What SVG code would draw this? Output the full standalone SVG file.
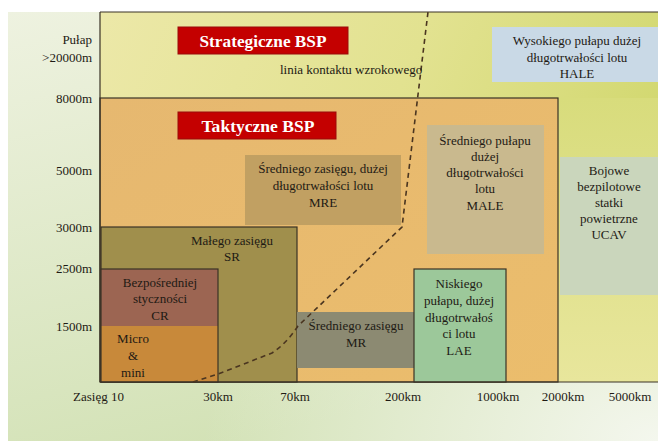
<svg xmlns="http://www.w3.org/2000/svg" width="658" height="441" viewBox="0 0 658 441" font-family="'Liberation Serif', 'DejaVu Serif', serif">
<defs>
<linearGradient id="bg" x1="0" y1="0" x2="0.35" y2="1">
<stop offset="0" stop-color="#eef2e0"/>
<stop offset="1" stop-color="#d3e2b6"/>
</linearGradient>
<radialGradient id="bgr" cx="1" cy="1" r="0.7">
<stop offset="0" stop-color="#f4f7ee" stop-opacity="1"/>
<stop offset="1" stop-color="#f4f7ee" stop-opacity="0"/>
</radialGradient>
<linearGradient id="strat" x1="0" y1="0" x2="1" y2="0.3">
<stop offset="0" stop-color="#ece8a8"/>
<stop offset="0.55" stop-color="#e2e290"/>
<stop offset="1" stop-color="#d2d870"/>
</linearGradient>
<linearGradient id="tact" x1="0" y1="0" x2="1" y2="1">
<stop offset="0" stop-color="#e6b870"/>
<stop offset="1" stop-color="#ebbd6c"/>
</linearGradient>
<linearGradient id="rcol" x1="0" y1="0" x2="0" y2="1">
<stop offset="0" stop-color="#d8dc7c"/>
<stop offset="1" stop-color="#e8e69c"/>
</linearGradient>
</defs>
<style>
text{font-family:'Liberation Serif','DejaVu Serif',serif;font-size:13px;fill:#1e1a14}
.ax{text-anchor:end}
.axc{text-anchor:middle}
.c{text-anchor:middle}
.ttl{font-size:17px;fill:#ffffff;font-weight:bold;text-anchor:middle}
.red{fill:#c40000;stroke:#9a0a0a;stroke-width:1}
.bd{stroke:#3a3226;stroke-width:1.2}
.conn{fill:none;stroke:#4a3520;stroke-width:1.6;stroke-dasharray:5 4}
</style>
<rect width="658" height="441" fill="#ffffff"/>
<rect x="8" y="12" width="650" height="429" fill="url(#bg)"/>
<rect x="8" y="12" width="650" height="429" fill="url(#bgr)"/>

<g id="strategic">
<rect x="100" y="12" width="558" height="370" fill="url(#strat)"/>
<rect x="558" y="98" width="100" height="284" fill="url(#rcol)"/>
<line x1="100" y1="12" x2="658" y2="12" class="bd"/>
</g>
<g id="strategic-title">
<rect x="178" y="27" width="170" height="27" class="red"/>
<text x="263" y="47" class="ttl" textLength="127" lengthAdjust="spacingAndGlyphs">Strategiczne BSP</text>
</g>
<g id="tactical">
<rect x="100" y="98" width="458" height="284" fill="url(#tact)" class="bd"/>
</g>
<g id="tactical-title">
<rect x="178" y="112" width="158" height="27" class="red"/>
<text x="258" y="132" class="ttl" textLength="113" lengthAdjust="spacingAndGlyphs">Taktyczne BSP</text>
</g>
<g id="hale">
<rect x="492" y="27" width="166" height="55" fill="#c9d9e6"/>
<text x="577" y="45" class="c">Wysokiego pułapu dużej</text>
<text x="577" y="62" class="c">długotrwałości lotu</text>
<text x="577" y="78" class="c">HALE</text>
</g>
<g id="ucav">
<rect x="560" y="157" width="98" height="138" fill="#cad6bc"/>
<text x="609" y="175" class="c">Bojowe</text>
<text x="609" y="191" class="c">bezpilotowe</text>
<text x="609" y="207" class="c">statki</text>
<text x="609" y="223" class="c">powietrzne</text>
<text x="609" y="239" class="c">UCAV</text>
</g>
<g id="male">
<rect x="427" y="125" width="117" height="129" fill="#c9b98e"/>
<text x="485" y="145" class="c">Średniego pułapu</text>
<text x="485" y="161" class="c">dużej</text>
<text x="485" y="177" class="c">długotrwałości</text>
<text x="485" y="193" class="c">lotu</text>
<text x="485" y="210" class="c">MALE</text>
</g>
<g id="mre">
<rect x="245" y="155" width="156" height="70" fill="#c1a062"/>
<text x="323" y="173" class="c">Średniego zasięgu, dużej</text>
<text x="323" y="190" class="c">długotrwałości lotu</text>
<text x="323" y="207" class="c">MRE</text>
</g>
<g id="sr">
<rect x="101" y="227" width="196" height="155" fill="#a08f4c" class="bd"/>
<text x="232" y="245" class="c">Małego zasięgu</text>
<text x="232" y="261" class="c">SR</text>
</g>
<g id="cr">
<rect x="101" y="269" width="117" height="57" fill="#9c6552"/>
<text x="160" y="287" class="c">Bezpośredniej</text>
<text x="160" y="303" class="c">styczności</text>
<text x="160" y="320" class="c">CR</text>
</g>
<g id="micro">
<rect x="101" y="326" width="117" height="56" fill="#c8893a"/>
<text x="133" y="343" class="c">Micro</text>
<text x="133" y="360" class="c">&amp;</text>
<text x="133" y="377" class="c">mini</text>
<rect x="101" y="269" width="117" height="113" fill="none" class="bd"/>
</g>
<g id="mr">
<rect x="297" y="312" width="117" height="56" fill="#8c8a72"/>
<text x="356" y="330" class="c">Średniego zasięgu</text>
<text x="356" y="347" class="c">MR</text>
</g>
<g id="lae">
<rect x="414" y="269" width="92" height="113" fill="#9cc89a" class="bd"/>
<text x="459" y="288" class="c">Niskiego</text>
<text x="459" y="305" class="c">pułapu, dużej</text>
<text x="459" y="322" class="c">długotrwałoś</text>
<text x="459" y="338" class="c">ci lotu</text>
<text x="459" y="355" class="c">LAE</text>
</g>
<g id="frame">
<line x1="100" y1="12" x2="100" y2="382" class="bd"/>
<line x1="100" y1="382" x2="658" y2="382" class="bd"/>
</g>
<g id="connectors">
<path class="conn" d="M193,382 L218,374 L272,353 Q286,344 298,326 L402,227 L428,12"/>
<text x="280" y="74">linia kontaktu wzrokowego</text>
</g>
<g id="axis">
<text x="92" y="44" class="ax">Pułap</text>
<text x="92" y="62" class="ax">&gt;20000m</text>
<text x="92" y="103" class="ax">8000m</text>
<text x="92" y="175" class="ax">5000m</text>
<text x="92" y="232" class="ax">3000m</text>
<text x="92" y="273" class="ax">2500m</text>
<text x="92" y="331" class="ax">1500m</text>
<text x="73" y="401">Zasięg 10</text>
<text x="218" y="401" class="axc">30km</text>
<text x="295" y="401" class="axc">70km</text>
<text x="403" y="401" class="axc">200km</text>
<text x="498" y="401" class="axc">1000km</text>
<text x="563" y="401" class="axc">2000km</text>
<text x="630" y="401" class="axc">5000km</text>
</g>
</svg>
